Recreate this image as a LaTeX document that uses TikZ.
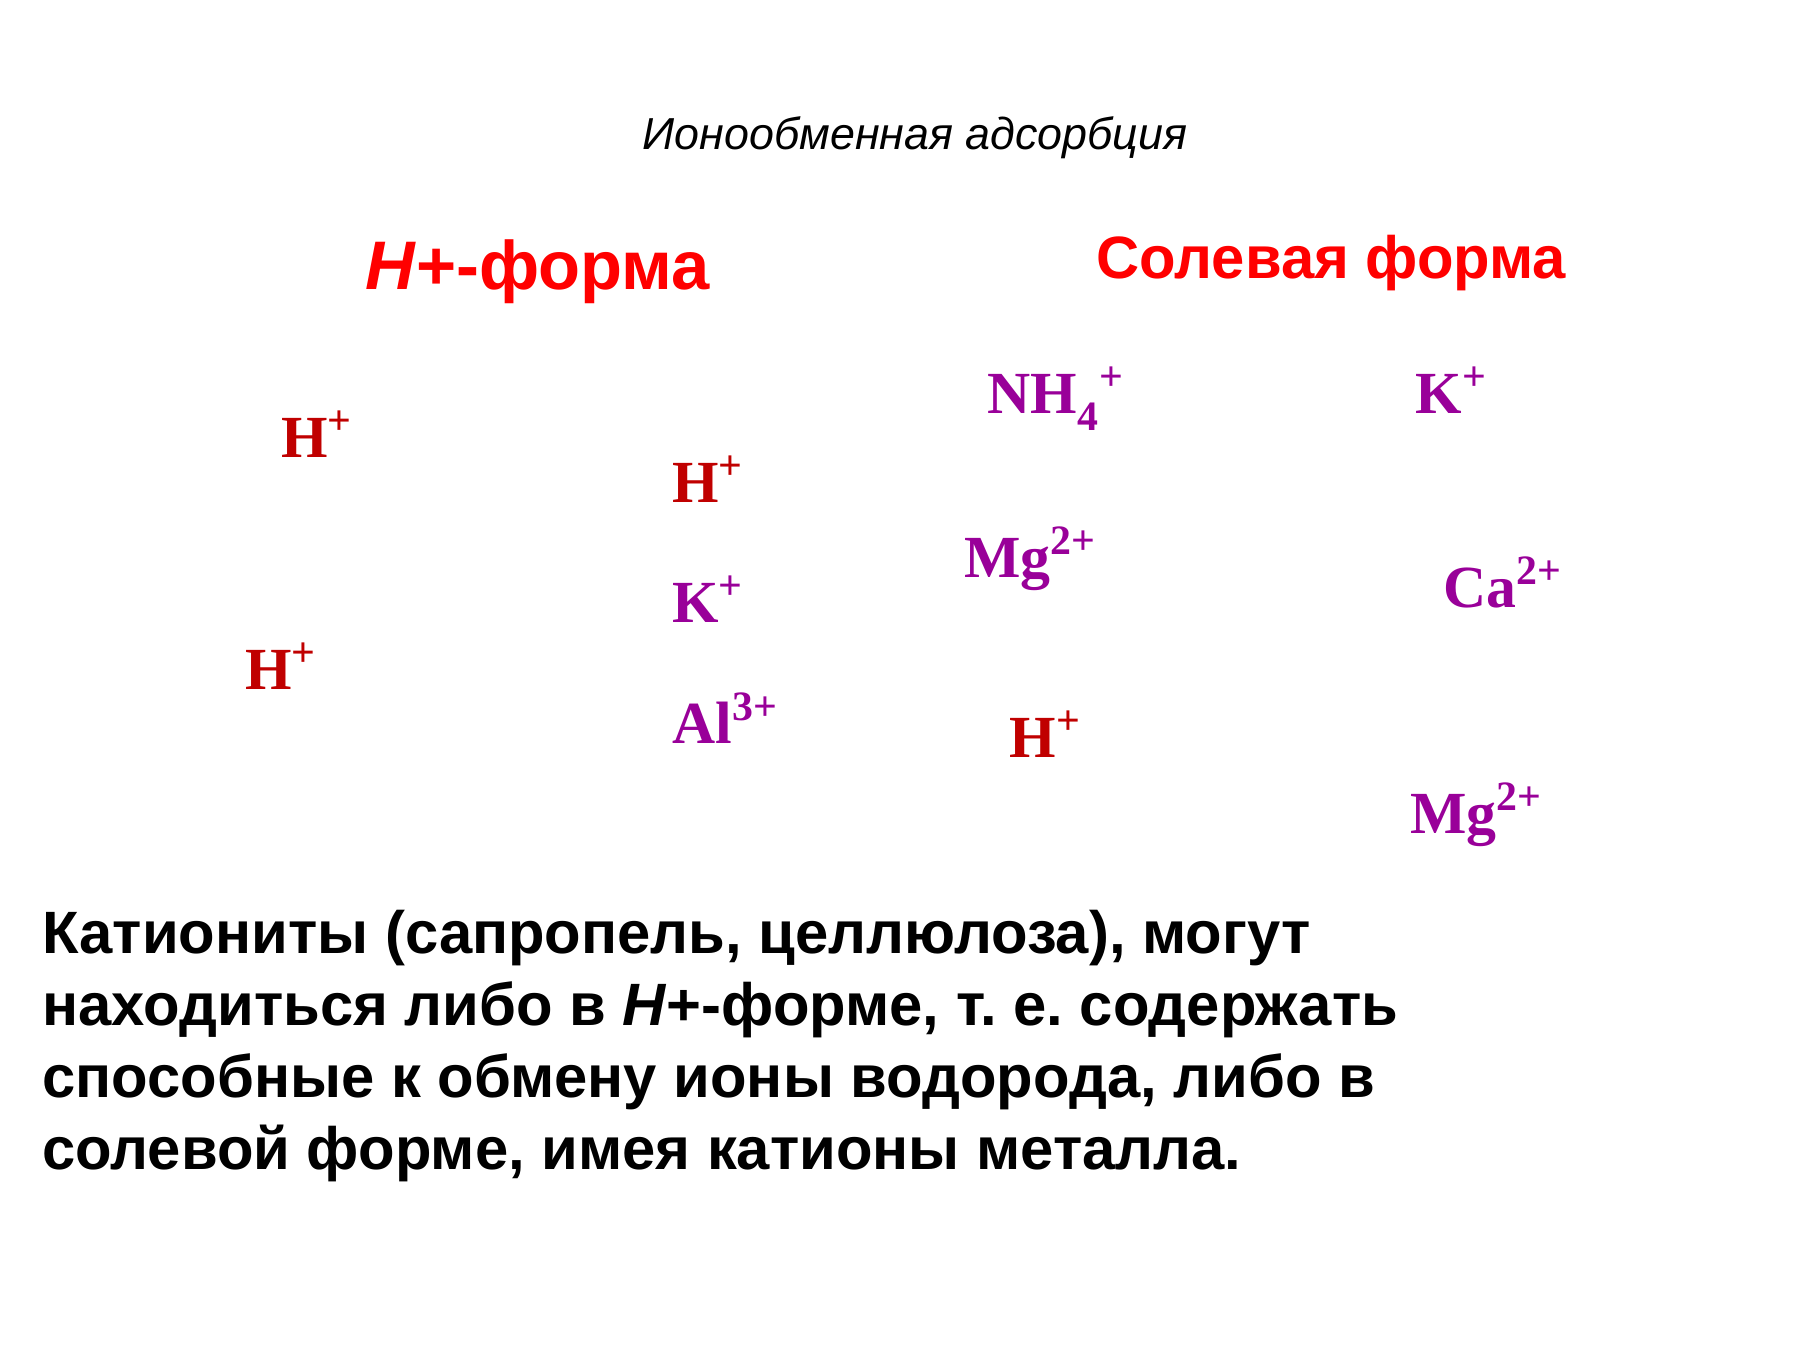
\documentclass[tikz,border=0pt]{standalone}
\usepackage{fontspec}
\setmainfont{Liberation Serif}
\setsansfont{Liberation Sans}
\usetikzlibrary{positioning}
\definecolor{headred}{HTML}{FF0000}
\definecolor{hred}{HTML}{C00000}
\definecolor{metal}{HTML}{990099}
\frenchspacing

\begin{document}
\begin{tikzpicture}[
  x=0.014111cm, y=-0.014111cm,
  every node/.style={inner sep=0pt, anchor=base west},
  head/.style={font=\sffamily\bfseries\fontsize{27.6}{32}\selectfont, text=headred},
  ionh/.style={font=\rmfamily\bfseries\fontsize{24}{28}\selectfont, text=hred},
  ionm/.style={font=\rmfamily\bfseries\fontsize{24}{28}\selectfont, text=metal}
]
  \useasboundingbox (0,0) rectangle (1800,1350);

  \node[anchor=base, font=\sffamily\itshape\fontsize{18}{22}\selectfont] (title) at (915,149) {Ионообменная адсорбция};
  \node[head] (hform) at (365,289) {\textit{H}+-форма};
  \node[head, font=\sffamily\bfseries\fontsize{24}{28}\selectfont] (saltform) at (1096,278) {Солевая форма};

  % H+ form
  \node[ionh] (h1) at (281,457) {H\textsuperscript{+}};
  \node[ionh] (h2) at (245,689) {H\textsuperscript{+}};
  \node[ionh] (h3) at (672,502) {H\textsuperscript{+}};
  \node[ionm] (k1) at (672,622) {K\textsuperscript{+}};
  \node[ionm] (al) at (672,743) {Al\textsuperscript{3+}};

  % salt form
  \node[ionm] (nh4) at (987,413) {NH\raisebox{-0.3ex}{\textsubscript{4}}\textsuperscript{+}};
  \node[ionm] (k2) at (1415,413) {K\textsuperscript{+}};
  \node[ionm] (mg1) at (964,577) {Mg\textsuperscript{2+}};
  \node[ionm] (ca) at (1443,607) {Ca\textsuperscript{2+}};
  \node[ionh] (h4) at (1009,757) {H\textsuperscript{+}};
  \node[ionm] (mg2) at (1410,833) {Mg\textsuperscript{2+}};

  % base of this node is its last line
  \node[align=left, font=\sffamily\bfseries\fontsize{24}{28.9}\selectfont] (note) at (42,1169)
    {Катиониты (сапропель, целлюлоза), могут\\
     находиться либо в \textit{H}+-форме, т. е. содержать\\
     способные к обмену ионы водорода, либо в\\
     солевой форме, имея катионы металла.};
\end{tikzpicture}
\end{document}
